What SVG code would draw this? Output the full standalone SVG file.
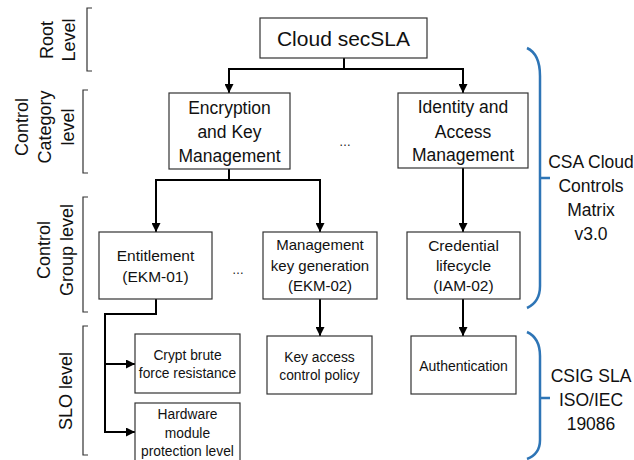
<svg xmlns="http://www.w3.org/2000/svg" width="634" height="460" viewBox="0 0 634 460">
<style>
.box{fill:#fff;stroke:#333;stroke-width:1.2}
.t{font-family:"Liberation Sans",Arial,sans-serif;fill:#111;text-anchor:middle}
.c{fill:none;stroke:#000;stroke-width:2}
.br{fill:none;stroke:#333;stroke-width:1.2}
.bl{fill:none;stroke:#2E75B6;stroke-width:2.5}
</style>
<defs>
<marker id="ah" viewBox="0 0 10 10" refX="10" refY="5" markerWidth="9" markerHeight="9" markerUnits="userSpaceOnUse" orient="auto">
<path d="M0,0 L10,5 L0,10 z" fill="#000"/>
</marker>
</defs>
<rect width="634" height="460" fill="#fff"/>

<g id="connectors">
<path class="c" d="M344,58 V69 H229 V93" marker-end="url(#ah)"/>
<path class="c" d="M344,69 H463 V93" marker-end="url(#ah)"/>
<path class="c" d="M229,169 V180 H156 V232" marker-end="url(#ah)"/>
<path class="c" d="M229,180 H320 V232" marker-end="url(#ah)"/>
<path class="c" d="M463,168 V232" marker-end="url(#ah)"/>
<path class="c" d="M156,299 V314 H105 V432 H135" marker-end="url(#ah)" stroke-width="2.5"/>
<path class="c" d="M105,364 H135" marker-end="url(#ah)" stroke-width="2.5"/>
<path class="c" d="M320,299 V336" marker-end="url(#ah)"/>
<path class="c" d="M463,299 V336" marker-end="url(#ah)"/>
</g>

<g id="root">
<rect class="box" x="260" y="18" width="167" height="40"/>
<text class="t" x="343.5" y="46" font-size="21">Cloud secSLA</text>
</g>

<g id="ekm">
<rect class="box" x="169" y="93" width="121" height="76"/>
<text class="t" x="229.5" y="114" font-size="17.5">Encryption</text>
<text class="t" x="229.5" y="138" font-size="17.5">and Key</text>
<text class="t" x="229.5" y="162" font-size="17.5">Management</text>
</g>

<g id="iam">
<rect class="box" x="398" y="93" width="130" height="75"/>
<text class="t" x="463" y="113" font-size="17.5">Identity and</text>
<text class="t" x="463" y="138" font-size="17.5">Access</text>
<text class="t" x="463" y="161" font-size="17.5">Management</text>
</g>

<text class="t" x="345" y="146" font-size="12">…</text>
<text class="t" x="238" y="274" font-size="12">…</text>

<g id="ekm01">
<rect class="box" x="99" y="232" width="113" height="67"/>
<text class="t" x="155.5" y="261" font-size="15.5">Entitlement</text>
<text class="t" x="155.5" y="282" font-size="15.5">(EKM-01)</text>
</g>

<g id="ekm02">
<rect class="box" x="263" y="232" width="114" height="67"/>
<text class="t" x="320" y="250" font-size="15">Management</text>
<text class="t" x="320" y="271" font-size="15">key generation</text>
<text class="t" x="320" y="291" font-size="15">(EKM-02)</text>
</g>

<g id="iam02">
<rect class="box" x="407" y="232" width="113" height="67"/>
<text class="t" x="463.5" y="251" font-size="15.5">Credential</text>
<text class="t" x="463.5" y="271" font-size="15.5">lifecycle</text>
<text class="t" x="463.5" y="291" font-size="15.5">(IAM-02)</text>
</g>

<g id="crypt">
<rect class="box" x="135" y="334" width="105" height="59"/>
<text class="t" x="187.5" y="360" font-size="13.8">Crypt brute</text>
<text class="t" x="187.5" y="378" font-size="13.8">force resistance</text>
</g>

<g id="hardware">
<rect class="box" x="135" y="403" width="105" height="62"/>
<text class="t" x="187.5" y="419" font-size="13.8">Hardware</text>
<text class="t" x="187.5" y="438" font-size="13.8">module</text>
<text class="t" x="187.5" y="456" font-size="13.8">protection level</text>
</g>

<g id="keyaccess">
<rect class="box" x="267" y="336" width="105" height="58"/>
<text class="t" x="319.5" y="362" font-size="13.8">Key access</text>
<text class="t" x="319.5" y="380" font-size="13.8">control policy</text>
</g>

<g id="auth">
<rect class="box" x="411" y="336" width="105" height="58"/>
<text class="t" x="463.5" y="371" font-size="14">Authentication</text>
</g>

<g id="levels">
<path class="br" d="M92,8 H87 V71 H92"/>
<text class="t" font-size="18" transform="translate(53,40) rotate(-90)">Root</text>
<text class="t" font-size="18" transform="translate(75,40) rotate(-90)">Level</text>

<path class="br" d="M88,90 H83 V173 H88"/>
<text class="t" font-size="18" transform="translate(28,127) rotate(-90)">Control</text>
<text class="t" font-size="18" transform="translate(51,127) rotate(-90)">Category</text>
<text class="t" font-size="18" transform="translate(74,127) rotate(-90)">level</text>

<path class="br" d="M88,197 H83 V312 H88"/>
<text class="t" font-size="18" transform="translate(50,250) rotate(-90)">Control</text>
<text class="t" font-size="18" transform="translate(73,250) rotate(-90)">Group level</text>

<path class="br" d="M88,326 H83 V455 H88"/>
<text class="t" font-size="18" transform="translate(72,391) rotate(-90)">SLO level</text>
</g>

<g id="csa">
<path class="bl" d="M527,48 Q540,54 540,76 L540,178 M540,178 H550 M540,178 L540,286 Q540,302 527,308"/>
<text class="t" x="591" y="168" font-size="17.5">CSA Cloud</text>
<text class="t" x="591" y="192" font-size="17.5">Controls</text>
<text class="t" x="591" y="216" font-size="17.5">Matrix</text>
<text class="t" x="591" y="240" font-size="17.5">v3.0</text>
</g>

<g id="csig">
<path class="bl" d="M527,332 Q540,338 540,356 L540,398 M540,398 H550 M540,398 L540,440 Q540,454 527,459"/>
<text class="t" x="591" y="382" font-size="17.5">CSIG SLA</text>
<text class="t" x="591" y="406" font-size="17.5">ISO/IEC</text>
<text class="t" x="591" y="430" font-size="17.5">19086</text>
</g>
</svg>
